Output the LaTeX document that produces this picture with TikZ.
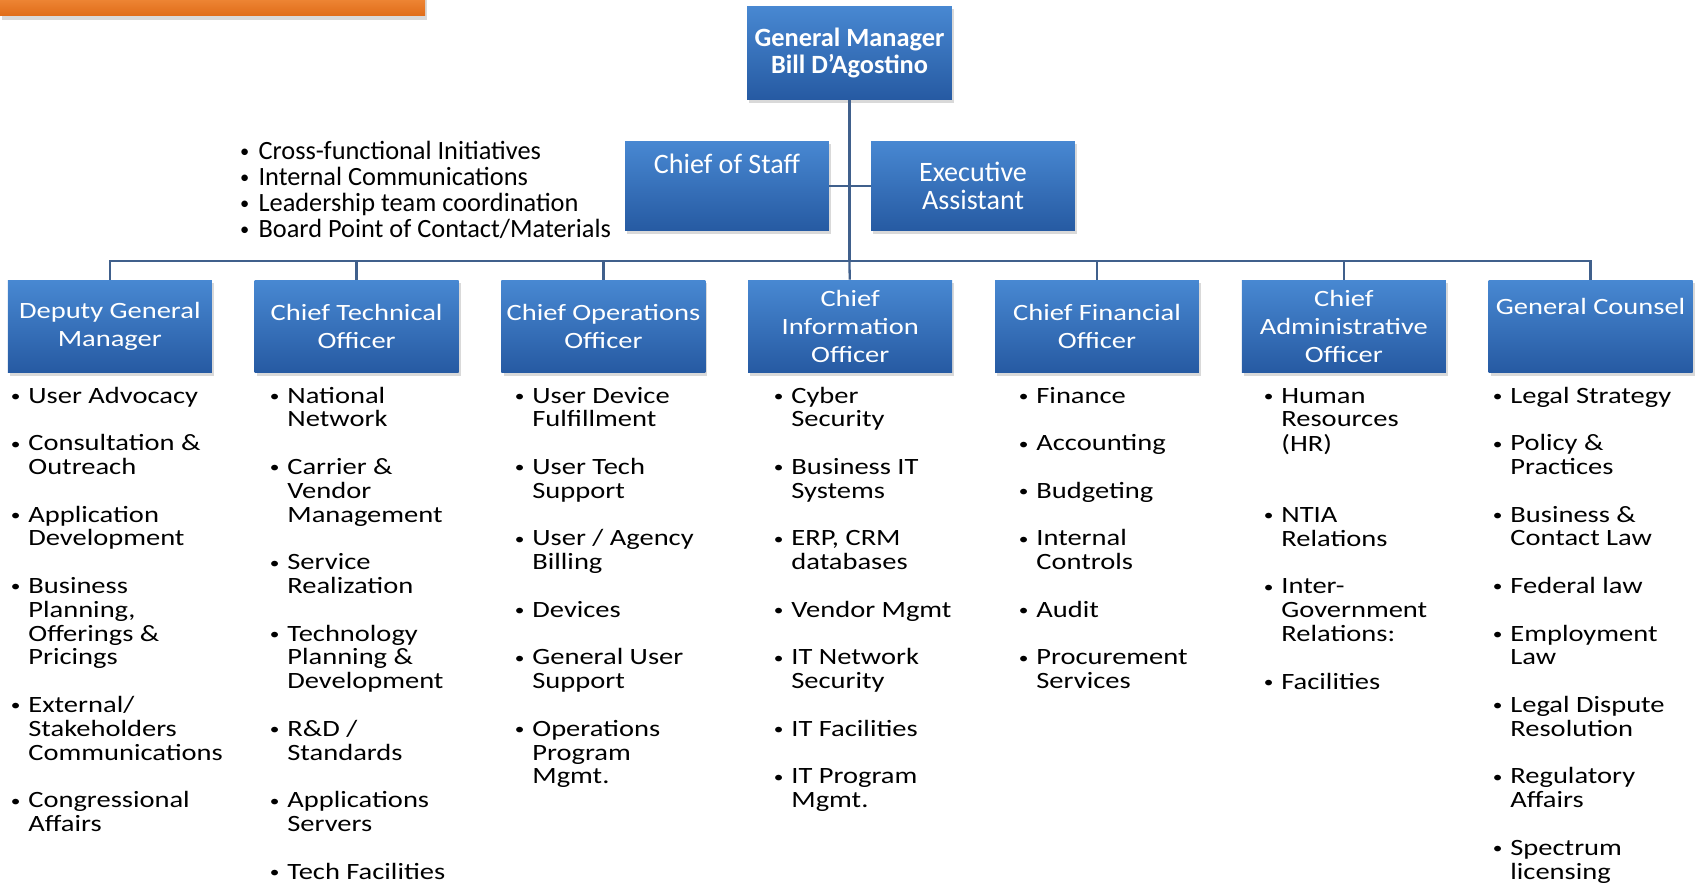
\documentclass[tikz,border=0pt]{standalone}
\usepackage{fontspec}
\setmainfont{Carlito}
\newfontfamily\listfont[FakeStretch=1.22]{Carlito}
\usetikzlibrary{positioning, shadows}

\definecolor{boxtop}{RGB}{72,136,210}
\definecolor{boxbot}{RGB}{38,90,162}
\definecolor{linkblue}{RGB}{64,96,140}
\definecolor{bartop}{RGB}{240,138,58}
\definecolor{barbot}{RGB}{224,108,24}

\newcommand{\bl}{\makebox[11pt][l]{\hspace{1pt}\raisebox{0.9pt}{\fontsize{9}{9}\selectfont\textbullet}}}
\newcommand{\ind}{\hspace*{11pt}}
\newcommand{\nb}{\makebox[11.5pt][l]{\hspace{1pt}\raisebox{1pt}{\fontsize{10.5}{10.5}\selectfont\textbullet}}}
\newcommand{\gap}{\\[13.55pt]}

\begin{document}
\begin{tikzpicture}[x=0.02cm, y=-0.02cm,
    rolebox/.style={rectangle, top color=boxtop, bottom color=boxbot, text=white,
      align=center, inner sep=0pt, minimum width=4.08cm, minimum height=1.86cm,
      drop shadow={shadow xshift=1.2pt, shadow yshift=-1.5pt, opacity=0.3}},
    headbox/.style={rolebox, minimum width=4.1cm, minimum height=1.88cm,
      font=\bfseries\fontsize{15}{15}\selectfont},
    staffbox/.style={rolebox, minimum height=1.8cm, font=\fontsize{16}{16}\selectfont},
    unitbox/.style={rolebox, font=\listfont\fontsize{13.3}{16}\selectfont},
    duties/.style={anchor=base west, inner sep=0pt, font=\listfont\fontsize{13.3}{13.55}\selectfont},
    notes/.style={anchor=base west, inner sep=0pt, font=\fontsize{15}{14.8}\selectfont},
    link/.style={draw=linkblue, line width=1.3pt}]
  \useasboundingbox (0,0) rectangle (1696,882);

  % orange band in the corner
  \path[top color=bartop, bottom color=barbot,
    drop shadow={shadow xshift=1.2pt, shadow yshift=-2pt, opacity=0.3}] (0,-4) rectangle (425,16);

  % top of the chart
  \node[headbox] (gm) at (849.5,53) {General Manager\\Bill D’Agostino};
  \node[staffbox] (cos) at (727,186) {Chief of Staff\\[9pt]\mbox{}};
  \node[staffbox] (ea) at (973,186) {Executive\\Assistant};
  \node[notes] (cosnotes) at (238,159) {\begin{tabular}[t]{@{}l@{}}
      \nb Cross-functional Initiatives\\
      \nb Internal Communications\\
      \nb Leadership team coordination\\
      \nb Board Point of Contact/Materials
    \end{tabular}};

  % direct reports
  \node[unitbox] (dgm) at (109.8,326.5) {Deputy General\\Manager};
  \node[unitbox] (cto) at (356.6,326.5) {Chief Technical\\Officer};
  \node[unitbox] (coo) at (603.4,326.5) {Chief Operations\\Officer};
  \node[unitbox] (cio) at (850.2,326.5) {Chief\\Information\\Officer};
  \node[unitbox] (cfo) at (1097,326.5) {Chief Financial\\Officer};
  \node[unitbox] (cao) at (1343.8,326.5) {Chief\\Administrative\\Officer};
  \node[unitbox] (gc) at (1590.6,326.5) {General Counsel\\[7pt]\mbox{}};

  \coordinate (hub) at (849.5,261);
  \draw[link] (gm) -- (hub);
  \draw[link] (cos) -- (ea);
  \draw[link] (hub) -| (dgm);
  \draw[link] (hub) -| (cto);
  \draw[link] (hub) -| (coo);
  \draw[link] (hub) -- (cio);
  \draw[link] (hub) -| (cfo);
  \draw[link] (hub) -| (cao);
  \draw[link] (hub) -| (gc);

  % duties under each box
  \node[duties] (dgmlist) at (8.7,403) {\begin{tabular}[t]{@{}l@{}}
      \bl User Advocacy\gap
      \bl Consultation \&\\ \ind Outreach\gap
      \bl Application\\ \ind Development\gap
      \bl Business\\ \ind Planning,\\ \ind Offerings \&\\ \ind Pricings\gap
      \bl External/\\ \ind Stakeholders\\ \ind Communications\gap
      \bl Congressional\\ \ind Affairs
    \end{tabular}};
  \node[duties] (ctolist) at (267.7,403) {\begin{tabular}[t]{@{}l@{}}
      \bl National\\ \ind Network\gap
      \bl Carrier \&\\ \ind Vendor\\ \ind Management\gap
      \bl Service\\ \ind Realization\gap
      \bl Technology\\ \ind Planning \&\\ \ind Development\gap
      \bl R\&D /\\ \ind Standards\gap
      \bl Applications\\ \ind Servers\gap
      \bl Tech Facilities
    \end{tabular}};
  \node[duties] (coolist) at (512.7,403) {\begin{tabular}[t]{@{}l@{}}
      \bl User Device\\ \ind Fulfillment\gap
      \bl User Tech\\ \ind Support\gap
      \bl User / Agency\\ \ind Billing\gap
      \bl Devices\gap
      \bl General User\\ \ind Support\gap
      \bl Operations\\ \ind Program\\ \ind Mgmt.
    \end{tabular}};
  \node[duties] (ciolist) at (771.7,403) {\begin{tabular}[t]{@{}l@{}}
      \bl Cyber\\ \ind Security\gap
      \bl Business IT\\ \ind Systems\gap
      \bl ERP, CRM\\ \ind databases\gap
      \bl Vendor Mgmt\gap
      \bl IT Network\\ \ind Security\gap
      \bl IT Facilities\gap
      \bl IT Program\\ \ind Mgmt.
    \end{tabular}};
  \node[duties] (cfolist) at (1016.7,403) {\begin{tabular}[t]{@{}l@{}}
      \bl Finance\gap
      \bl Accounting\gap
      \bl Budgeting\gap
      \bl Internal\\ \ind Controls\gap
      \bl Audit\gap
      \bl Procurement\\ \ind Services
    \end{tabular}};
  \node[duties] (caolist) at (1261.7,403) {\begin{tabular}[t]{@{}l@{}}
      \bl Human\\ \ind Resources\\ \ind (HR)\\[27.1pt]
      \bl NTIA\\ \ind Relations\gap
      \bl Inter-\\ \ind Government\\ \ind Relations:\gap
      \bl Facilities
    \end{tabular}};
  \node[duties] (gclist) at (1490.7,403) {\begin{tabular}[t]{@{}l@{}}
      \bl Legal Strategy\gap
      \bl Policy \&\\ \ind Practices\gap
      \bl Business \&\\ \ind Contact Law\gap
      \bl Federal law\gap
      \bl Employment\\ \ind Law\gap
      \bl Legal Dispute\\ \ind Resolution\gap
      \bl Regulatory\\ \ind Affairs\gap
      \bl Spectrum\\ \ind licensing
    \end{tabular}};
\end{tikzpicture}
\end{document}
